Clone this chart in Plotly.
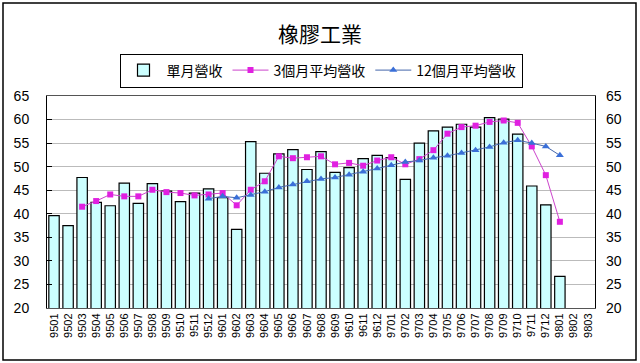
import plotly.graph_objects as go

months = ['9501','9502','9503','9504','9505','9506','9507','9508','9509','9510','9511','9512',
          '9601','9602','9603','9604','9605','9606','9607','9608','9609','9610','9611','9612',
          '9701','9702','9703','9704','9705','9706','9707','9708','9709','9710','9711','9712',
          '9801','9802','9803']

monthly = [39.6, 37.5, 47.7, 42.4, 41.7, 46.5, 42.2, 46.4, 44.8, 42.6, 44.4, 45.3,
           43.4, 36.7, 55.3, 48.6, 52.7, 53.6, 49.4, 53.2, 48.8, 49.8, 51.7, 52.4,
           51.9, 47.3, 55.0, 57.6, 58.4, 59.0, 58.4, 60.4, 60.1, 56.9, 45.9, 41.9,
           26.7, None, None]

avg3 = [None, None, 41.5, 42.7, 44.1, 43.7, 43.7, 45.1, 44.6, 44.4, 43.9, 44.1,
        44.4, 41.8, 45.1, 46.9, 52.2, 51.8, 52.0, 52.2, 50.5, 50.8, 50.2, 51.3,
        52.0, 50.5, 51.6, 53.5, 57.0, 58.4, 58.7, 59.5, 59.8, 59.3, 54.3, 48.2,
        38.3, None, None]

avg12 = [None, None, None, None, None, None, None, None, None, None, None, 43.2,
         43.7, 43.4, 44.0, 44.7, 45.6, 46.2, 46.9, 47.4, 47.7, 48.3, 48.9, 49.6,
         50.3, 51.0, 51.3, 51.9, 52.3, 52.9, 53.5, 54.2, 55.1, 55.6, 55.0, 54.3,
         52.4, None, None]

names = ['單月營收', '3個月平均營收', '12個月平均營收']
title = '橡膠工業'

FONT = 'Liberation Sans, Arial, Noto Sans CJK TC, sans-serif'
CJK = 'Noto Sans CJK TC, Liberation Sans, sans-serif'

fig = go.Figure()
fig.add_trace(go.Bar(x=months, y=monthly, name=names[0],
                     marker=dict(color='#CCFFFF', line=dict(color='black', width=1.2))))
fig.add_trace(go.Scatter(x=months, y=avg3, name=names[1], mode='lines+markers',
                         line=dict(color='#CC44CC', width=1),
                         marker=dict(symbol='square', size=6, color='#E020E0')))
fig.add_trace(go.Scatter(x=months, y=avg12, name=names[2], mode='lines+markers',
                         line=dict(color='#4466AA', width=1),
                         marker=dict(symbol='triangle-up', size=7, color='#3A6FD8')))
# invisible trace for right axis
fig.add_trace(go.Scatter(x=months, y=avg12, yaxis='y2', showlegend=False,
                         mode='lines', line=dict(width=0), hoverinfo='skip', opacity=0))

L, R, T, B = 47, 45, 96, 55
W, H = 640, 363
pw, ph = W - L - R, H - T - B

def px2x(p):
    return (p - L) / pw

def px2y(p):
    return (H - B - p) / ph

fig.update_layout(
    width=W, height=H,
    margin=dict(l=L, r=R, t=T, b=B, autoexpand=False),
    paper_bgcolor='white', plot_bgcolor='white',
    font=dict(family=FONT, color='black', size=12),
    bargap=0.26,
    showlegend=True,
    legend=dict(orientation='h', x=0.5, xanchor='center', y=px2y(70.5), yanchor='middle',
                bordercolor='black', borderwidth=1, bgcolor='white',
                font=dict(size=14, family=CJK),
                itemwidth=36, tracegroupgap=0),
    xaxis=dict(type='category', categoryorder='array', categoryarray=months,
               tickangle=-90, tickfont=dict(size=11), showgrid=False, automargin=False,
               showline=True, linecolor='#555555', linewidth=1, mirror=True,
               ticks='', range=[-0.5, 38.5]),
    yaxis=dict(range=[20, 65], dtick=5, tickfont=dict(size=14), automargin=False,
               showgrid=True, gridcolor='#BBBBBB', gridwidth=1,
               showline=True, linecolor='black', linewidth=1, mirror=True,
               ticks='inside', ticklen=5, tickcolor='black', ticklabelstandoff=14,
               zeroline=False),
    yaxis2=dict(range=[20, 65], dtick=5, tickfont=dict(size=14), overlaying='y', side='right',
                showgrid=False, showline=False, ticks='', zeroline=False, automargin=False,
                ticklabelstandoff=10),
    title=dict(text=title, x=0.5, xanchor='center', y=1 - 35 / H, yanchor='middle',
               font=dict(size=21, family=CJK)),
    shapes=[dict(type='rect', xref='paper', yref='paper',
                 x0=px2x(3), x1=px2x(636), y0=px2y(360), y1=px2y(3),
                 line=dict(color='black', width=1.5), fillcolor='rgba(0,0,0,0)', layer='below')],
)

fig.write_html('out.html', config={'displayModeBar': False},
               post_script="document.body.style.margin='0';")
